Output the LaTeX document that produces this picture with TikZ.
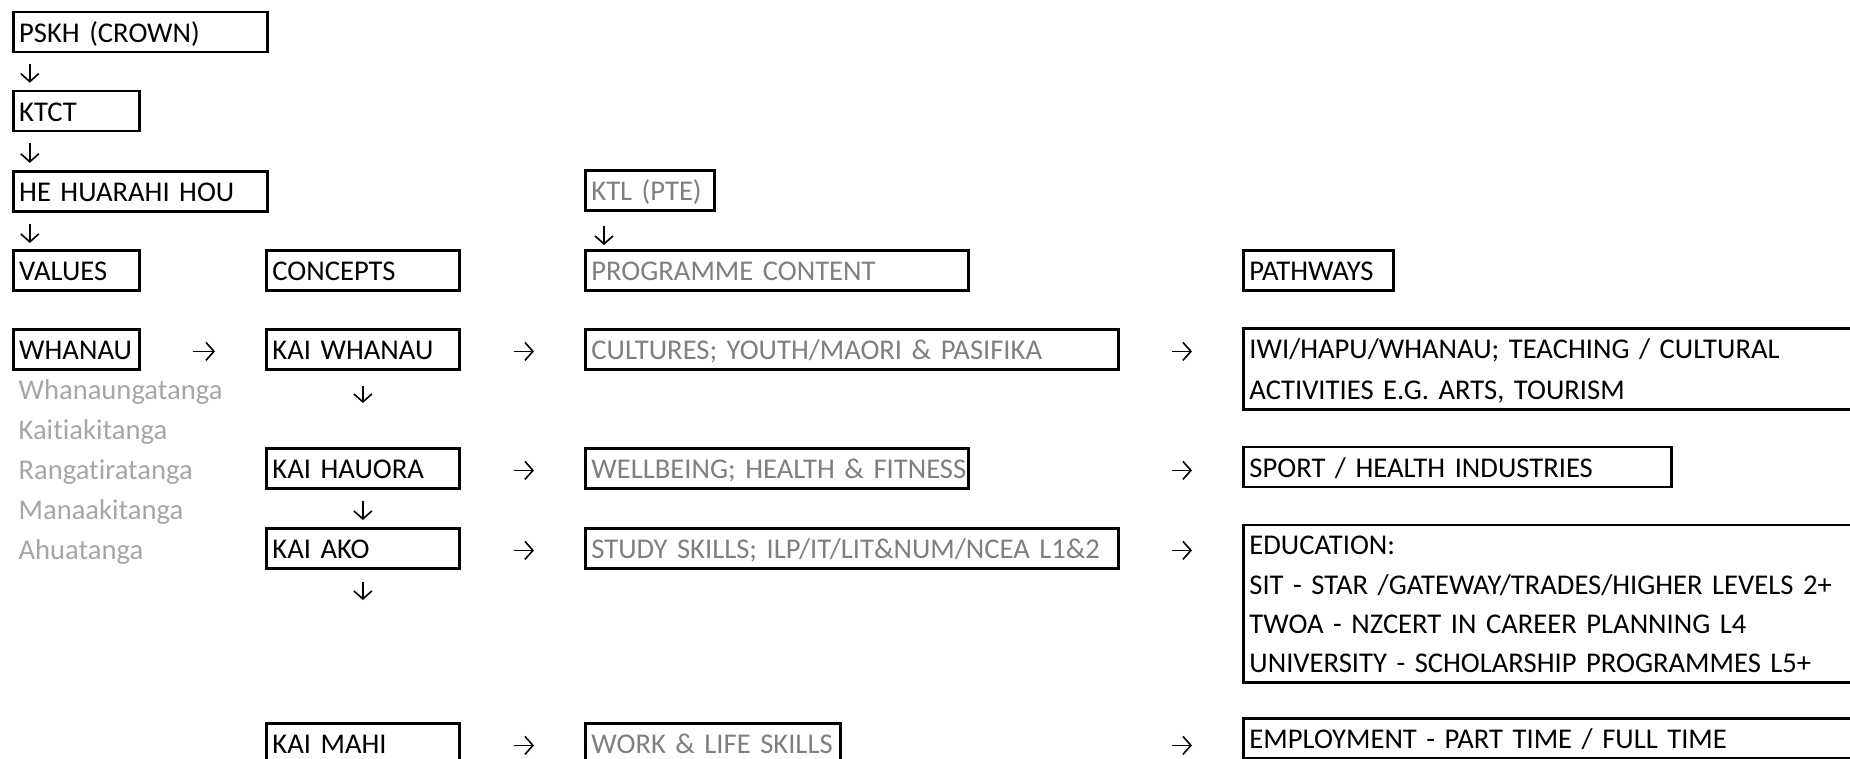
\documentclass[tikz,border=0pt]{standalone}
\usepackage{fontspec}
\setmainfont{Carlito}[Ligatures=NoCommon,WordSpace=0.85]
\usepackage{tikz}
\usetikzlibrary{arrows.meta}
\usepackage{xcolor}
\definecolor{progtext}{RGB}{127,127,127}
\definecolor{valtext}{RGB}{166,166,166}
\newcommand{\boxstrut}{\rule[-9.8pt]{0pt}{39.8pt}}

\begin{document}
\begin{tikzpicture}[x=1pt,y=1pt,font=\fontsize{28.6}{39.2}\selectfont,
  box/.style={draw,line width=2.8pt,anchor=north west,minimum height=40pt,inner xsep=6pt,inner ysep=0pt,
    text width=#1pt,align=left,execute at begin node=\boxstrut,execute at end node=\boxstrut},
  flow/.style={line width=1.6pt,-{Straight Barb[length=8pt,width=18pt,line width=1.6pt]}}]
  \useasboundingbox (0,0) rectangle (1850,-759);
  \clip (0,0) rectangle (1850,-759);
  % governance chain
  \node[box=242] (pskh) at (11.8,-10.6) {PSKH (CROWN)};
  \node[box=114] (ktct) at (11.8,-89.7) {KTCT};
  \node[box=242] (hhh) at (11.8,-169.9) {HE HUARAHI HOU};
  \node[box=117,text=progtext] (ktl) at (584,-169.5) {KTL (PTE)};
  % column heads
  \node[box=114] (values) at (11.8,-249) {VALUES};
  \node[box=181] (concepts) at (265,-249) {CONCEPTS};
  \node[box=371,text=progtext] (content) at (584,-249) {PROGRAMME CONTENT};
  \node[box=138] (pathways) at (1242,-249) {PATHWAYS};
  % rows
  \node[box=114] (whanau) at (11.8,-328) {WHANAU};
  \node[box=181] (kaiwhanau) at (265,-328) {KAI WHANAU};
  \node[box=521,text=progtext] (cultures) at (584,-328) {CULTURES; YOUTH/MAORI \& PASIFIKA};
  \node[box=700,minimum height=80pt] (iwi) at (1242,-327.5) {IWI/HAPU/WHANAU; TEACHING / CULTURAL\\ACTIVITIES E.G. ARTS, TOURISM};
  \node[box=181] (kaihauora) at (265,-447) {KAI HAUORA};
  \node[box=371,text=progtext] (wellbeing) at (584,-447) {\mbox{WELLBEING; HEALTH \& FITNESS}};
  \node[box=416] (sport) at (1242,-445.5) {SPORT / HEALTH INDUSTRIES};
  \node[box=181] (kaiako) at (265,-527) {KAI AKO};
  \node[box=521,text=progtext] (study) at (584,-527) {STUDY SKILLS; ILP/IT/LIT\&NUM/NCEA L1\&2};
  \node[box=700,minimum height=155pt] (education) at (1242,-523.5) {EDUCATION:\\SIT - STAR /GATEWAY/TRADES/HIGHER LEVELS 2+\\TWOA - NZCERT IN CAREER PLANNING L4\\UNIVERSITY - SCHOLARSHIP PROGRAMMES L5+};
  \node[box=181] (kaimahi) at (265,-722) {KAI MAHI};
  \node[box=243,text=progtext] (work) at (584,-722) {WORK \& LIFE SKILLS};
  \node[box=700] (employment) at (1242,-717) {EMPLOYMENT - PART TIME / FULL TIME};
  \foreach \v [count=\i] in {Whanaungatanga,Kaitiakitanga,Rangatiratanga,Manaakitanga,Ahuatanga}
    \node[anchor=base west,inner sep=0pt,text=valtext] (val\i) at (18.4,{-399-40.1*(\i-1)}) {\v};
  % down arrows
  \draw[flow,shorten <=11pt,shorten >=7pt] ([xshift=18pt]pskh.south west) -- ([xshift=18pt]ktct.north west);
  \draw[flow,shorten <=11pt,shorten >=7pt] ([xshift=18pt]ktct.south west) -- ([xshift=18pt]hhh.north west);
  \draw[flow,shorten <=11pt,shorten >=6pt] ([xshift=18pt]hhh.south west) -- ([xshift=18pt]values.north west);
  \draw[flow,shorten <=14pt,shorten >=4pt] ([xshift=20pt]ktl.south west) -- ([xshift=20pt]content.north west);
  \draw[flow,shorten <=15pt,shorten >=44pt] (kaiwhanau.south) -- (kaihauora.north);
  \draw[flow,shorten <=11pt,shorten >=7pt] (kaihauora.south) -- (kaiako.north);
  \draw[flow,shorten <=12pt,shorten >=122pt] (kaiako.south) -- (kaimahi.north);
  % across arrows
  \foreach \a/\b/\s in {whanau/kaiwhanau/52,kaiwhanau/cultures/53,cultures/iwi/52,
      kaihauora/wellbeing/53,wellbeing/sport/202,kaiako/study/53,study/education/52,
      kaimahi/work/53,work/employment/330}
    \draw[flow,shorten <=\s pt,shorten >=50pt] ([yshift=-2pt]\a.east) -- ([yshift=-2pt]\a.east -| \b.west);
\end{tikzpicture}
\end{document}
